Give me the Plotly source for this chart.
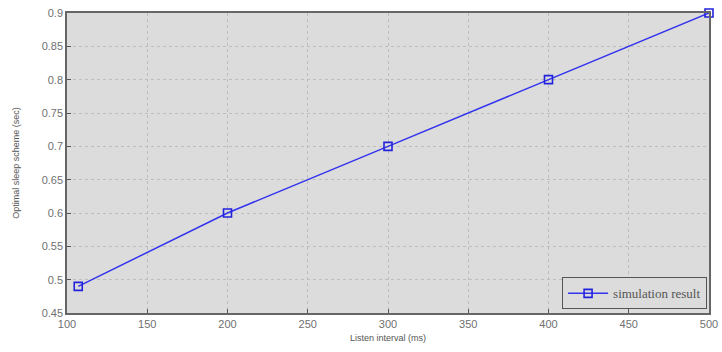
import plotly.graph_objects as go

listen_interval = [107, 200, 300, 400, 500]
sleep_scheme = [0.49, 0.60, 0.70, 0.80, 0.90]
x_ticks = [100, 150, 200, 250, 300, 350, 400, 450, 500]
y_ticks = [0.45, 0.5, 0.55, 0.6, 0.65, 0.7, 0.75, 0.8, 0.85, 0.9]

fig = go.Figure()
fig.add_trace(go.Scatter(
    x=listen_interval, y=sleep_scheme, mode="lines+markers",
    name="simulation result",
    line=dict(color="#3333ee", width=1.5),
    marker=dict(symbol="square-open", size=8, color="#2222dd", line=dict(width=1.6)),
    cliponaxis=False,
))

axis_common = dict(
    showline=True, linecolor="#666666", linewidth=1.5, mirror=True,
    showgrid=True, gridcolor="#bdbdbd", griddash="dot", gridwidth=1,
    ticks="inside", ticklen=4, tickcolor="#555555",
    tickfont=dict(family="Liberation Sans, Arial", size=11, color="#707070"),
    zeroline=False, automargin=False, ticklabeloverflow="allow",
)

fig.update_layout(
    width=722, height=352,
    margin=dict(l=67, r=13, t=13, b=39, autoexpand=False),
    paper_bgcolor="white", plot_bgcolor="#dcdcdc",
    showlegend=True,
    legend=dict(x=0.997, y=0.012, xanchor="right", yanchor="bottom",
                bgcolor="#dcdcdc", bordercolor="#555555", borderwidth=1,
                itemwidth=40, tracegroupgap=0,
                font=dict(family="Liberation Serif, Times New Roman", size=13, color="#555555")),
    xaxis=dict(range=[100, 500], tickvals=x_ticks,
               title=dict(text="Listen interval (ms)", standoff=6,
                          font=dict(family="Liberation Sans, Arial", size=9, color="#555555")),
               **axis_common),
    yaxis=dict(range=[0.45, 0.9], tickvals=y_ticks,
               ticktext=[("%g" % v) for v in y_ticks],
               title=dict(text="Optimal sleep scheme (sec)", standoff=20,
                          font=dict(family="Liberation Sans, Arial", size=9, color="#555555")),
               **axis_common),
)

fig.write_html(
    "out.html",
    config={"displayModeBar": False},
    post_script="document.body.style.margin='0';document.body.style.overflow='hidden';",
)
